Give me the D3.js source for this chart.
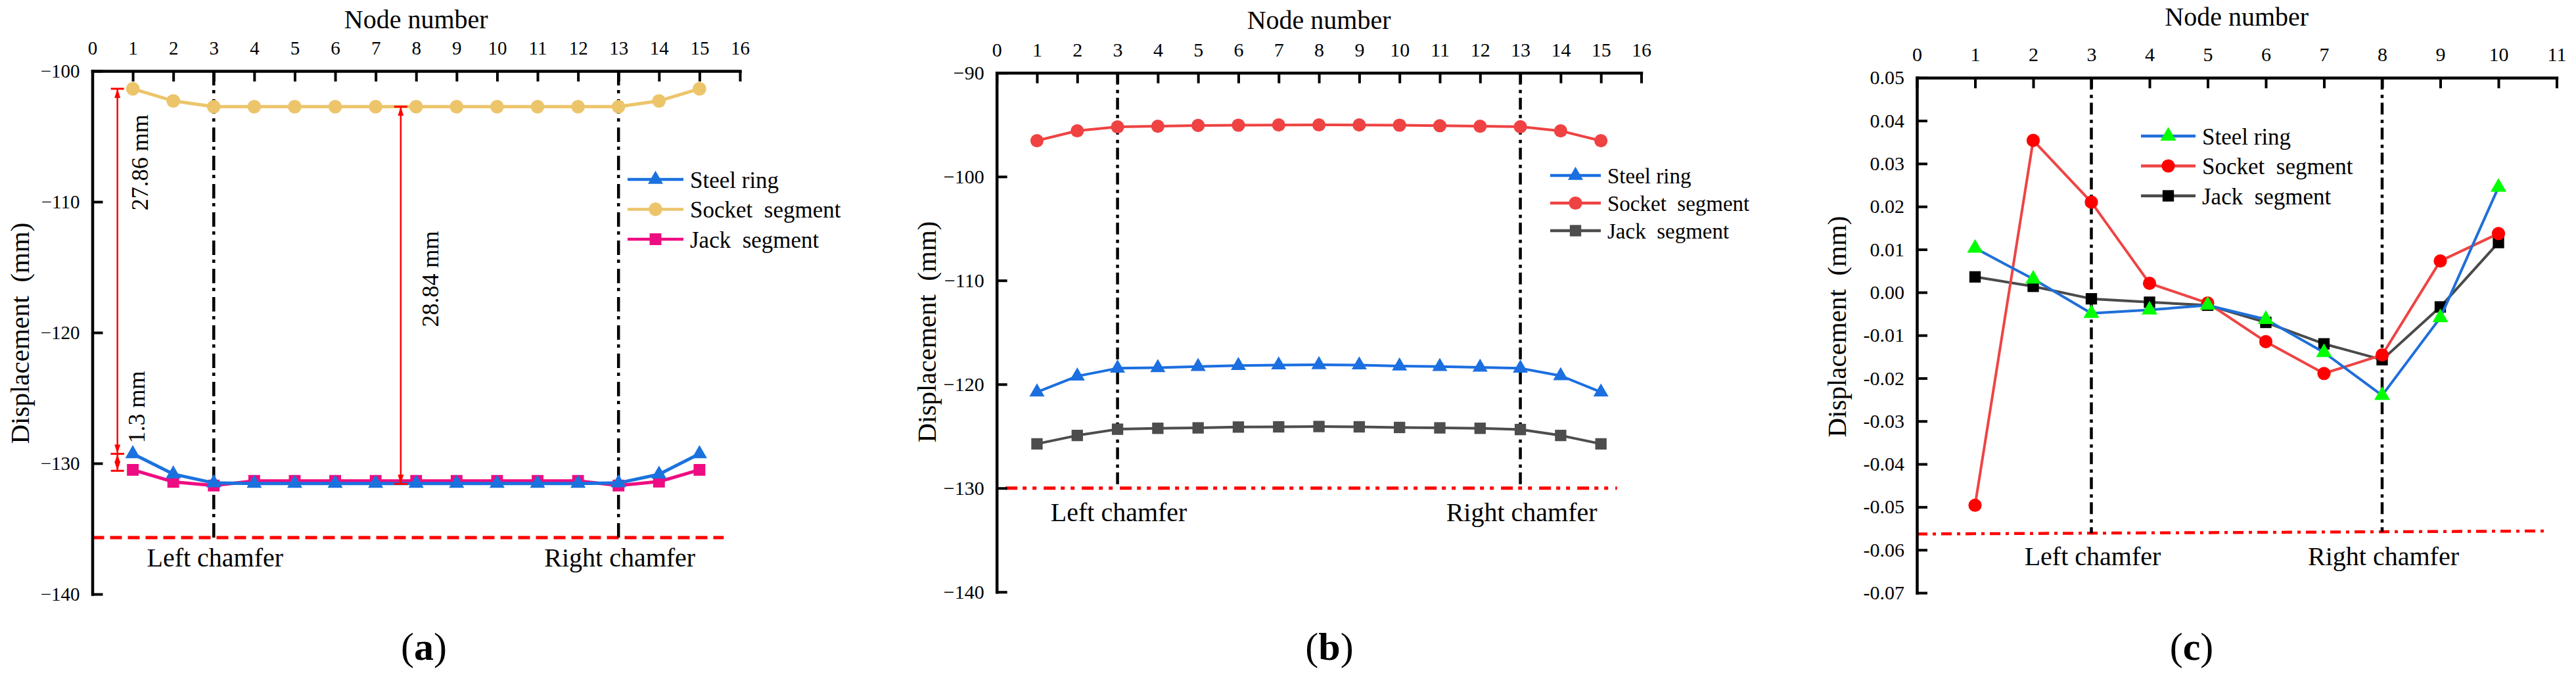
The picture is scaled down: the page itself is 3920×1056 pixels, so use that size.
<!DOCTYPE html>
<html>
<head>
<meta charset="utf-8">
<script src="https://cdn.jsdelivr.net/npm/d3@7"></script>
<style>
  body { margin: 0; background: #fff; }
  svg text { font-family: "Liberation Serif", "Times New Roman", Times, serif; fill: #000; white-space: pre; }
</style>
</head>
<body>
<svg id="chart" width="3920" height="1056"></svg>
<script>
// ---- data ----
const nodesAB = [1, 2, 3, 4, 5, 6, 7, 8, 9, 10, 11, 12, 13, 14, 15];
const nodesC = [1, 2, 3, 4, 5, 6, 7, 8, 9, 10];

const steelA  = [-129.27, -130.82, -131.50, -131.54, -131.54, -131.54, -131.54, -131.54, -131.54, -131.54, -131.54, -131.54, -131.50, -130.84, -129.27];
const socketA = [-101.36, -102.29, -102.73, -102.73, -102.73, -102.73, -102.73, -102.73, -102.73, -102.73, -102.73, -102.73, -102.73, -102.29, -101.36];
const jackA   = [-130.50, -131.42, -131.70, -131.34, -131.34, -131.34, -131.34, -131.34, -131.34, -131.34, -131.34, -131.34, -131.70, -131.40, -130.50];

const steelB  = [-120.75, -119.22, -118.46, -118.41, -118.30, -118.20, -118.15, -118.12, -118.15, -118.25, -118.30, -118.37, -118.46, -119.18, -120.76];
const socketB = [-96.54, -95.59, -95.21, -95.15, -95.08, -95.05, -95.03, -95.02, -95.03, -95.05, -95.10, -95.15, -95.20, -95.60, -96.55];
const jackB   = [-125.74, -124.93, -124.33, -124.24, -124.20, -124.12, -124.10, -124.07, -124.10, -124.16, -124.20, -124.24, -124.36, -124.93, -125.74];

const steelC  = [0.0103, 0.0031, -0.0049, -0.0041, -0.0030, -0.0063, -0.0140, -0.0240, -0.0059, 0.0245];
const socketC = [-0.0496, 0.0354, 0.0210, 0.0021, -0.0025, -0.0115, -0.0189, -0.0146, 0.0073, 0.0137];
const jackC   = [0.0036, 0.0014, -0.0015, -0.0023, -0.0030, -0.0070, -0.0120, -0.0157, -0.0034, 0.0116];

const xTicksAB = [0, 1, 2, 3, 4, 5, 6, 7, 8, 9, 10, 11, 12, 13, 14, 15, 16];
const xTicksC  = [0, 1, 2, 3, 4, 5, 6, 7, 8, 9, 10, 11];
const yTicksA  = [-100, -110, -120, -130, -140];
const yTicksB  = [-90, -100, -110, -120, -130, -140];
const yTicksC  = [0.05, 0.04, 0.03, 0.02, 0.01, 0, -0.01, -0.02, -0.03, -0.04, -0.05, -0.06, -0.07];

const seriesNames = ["Steel ring", "Socket  segment", "Jack  segment"];
const chamfersAB = [3, 13];
const chamfersC  = [3, 8];
const chamferLabels = ["Left chamfer", "Right chamfer"];

// red limit lines: [x, y] end points in data units
const limitA = [[0, -135.68], [15.6, -135.68]];
const limitB = [[0.22, -130], [15.4, -130]];
const limitC = [[0, -0.0563], [10.85, -0.0556]];

// dimension arrows of panel (a)
const dimsA = [
  { x: 0.62, from: socketA[0], to: steelA[0] },
  { x: 0.62, from: steelA[0], to: steelA[0] - 1.3 },
  { x: 7.62, from: socketA[7], to: socketA[7] - 28.84 }
];
const dimLabelsA = [
  { x: 1.17, y: -107.0, text: "27.86 mm" },
  { x: 1.10, y: -125.7, text: "1.3 mm" },
  { x: 8.35, y: -115.9, text: "28.84 mm" }
];

// ---- drawing ----
const svg = d3.select("#chart");
const FONT = '"Liberation Serif", "Times New Roman", Times, serif';

svg.append("defs").append("marker")
  .attr("id", "arrowRed")
  .attr("viewBox", "0 0 10 10")
  .attr("refX", 10).attr("refY", 5)
  .attr("markerUnits", "userSpaceOnUse")
  .attr("markerWidth", 14).attr("markerHeight", 9)
  .attr("preserveAspectRatio", "none")
  .attr("orient", "auto-start-reverse")
  .append("path").attr("d", "M0,0L10,5L0,10z").attr("fill", "#ff0000");

function drawPanel(p) {
  const g = svg.append("g");
  const x = d3.scaleLinear().domain(p.xDomain).range([p.left, p.right]);
  const y = d3.scaleLinear().domain(p.yDomain).range([p.top, p.bottom]);

  // red limit line
  g.append("line")
    .attr("x1", x(p.limit[0][0])).attr("y1", y(p.limit[0][1]))
    .attr("x2", x(p.limit[1][0])).attr("y2", y(p.limit[1][1]))
    .attr("stroke", "#ff0000").attr("stroke-width", p.limitWidth)
    .attr("stroke-dasharray", p.limitDash);

  // chamfer lines, down to the limit line
  const limitAt = d3.scaleLinear().domain([p.limit[0][0], p.limit[1][0]]).range([p.limit[0][1], p.limit[1][1]]);
  g.selectAll(".chamfer").data(p.chamfers).join("line")
    .attr("x1", d => x(d)).attr("x2", d => x(d))
    .attr("y1", p.top).attr("y2", d => y(limitAt(d)))
    .attr("stroke", "#000").attr("stroke-width", 4.5)
    .attr("stroke-dasharray", p.chamferDash);

  g.selectAll(".chamferLabel").data(p.chamfers).join("text")
    .attr("x", d => x(d) + 2).attr("y", p.chamferLabelY)
    .attr("text-anchor", "middle").attr("font-size", 40)
    .text((d, i) => chamferLabels[i]);

  // series
  const line = d3.line().x(d => x(d[0])).y(d => y(d[1]));
  p.drawOrder.forEach(i => {
    const s = p.series[i];
    const pts = p.nodes.map((n, k) => [n, s.values[k]]);
    g.append("path").datum(pts)
      .attr("d", line).attr("fill", "none")
      .attr("stroke", s.line).attr("stroke-width", p.lineWidth)
      .attr("stroke-linejoin", "round");
    g.selectAll(null).data(pts).join("path")
      .attr("transform", d => `translate(${x(d[0])},${y(d[1])})`)
      .attr("d", d3.symbol().type(s.symbol).size(s.size))
      .attr("fill", s.marker);
  });

  // axes
  const xAxis = g.append("g").attr("transform", `translate(0,${p.top})`)
    .call(d3.axisTop(x).tickValues(p.xTicks).tickSizeInner(-16).tickSizeOuter(0).tickPadding(25).tickFormat(d3.format("d")));
  const yAxis = g.append("g").attr("transform", `translate(${p.left},0)`)
    .call(d3.axisLeft(y).tickValues(p.yTicks).tickSizeInner(-16).tickSizeOuter(0).tickPadding(19).tickFormat(p.yFormat));
  [xAxis, yAxis].forEach(a => {
    a.attr("font-family", FONT).attr("font-size", p.tickFont);
    a.select(".domain").attr("stroke-width", 4.5).attr("stroke-linecap", "square");
    a.selectAll(".tick line").attr("stroke-width", 4);
    a.selectAll(".tick text").attr("fill", "#000");
  });

  // titles
  g.append("text")
    .attr("x", (p.left + p.right) / 2).attr("y", p.xTitleY)
    .attr("text-anchor", "middle").attr("font-size", 40)
    .text("Node number");
  g.append("text")
    .attr("transform", `translate(${p.yTitleX},${p.yTitleY}) rotate(-90)`)
    .attr("text-anchor", "middle").attr("font-size", 41)
    .text("Displacement  (mm)");

  // legend
  const lg = g.append("g");
  p.series.forEach((s, i) => {
    const ly = p.legend.y + i * p.legend.dy;
    lg.append("line")
      .attr("x1", p.legend.x0).attr("x2", p.legend.x1)
      .attr("y1", ly).attr("y2", ly)
      .attr("stroke", s.line).attr("stroke-width", 4.5);
    lg.append("path")
      .attr("transform", `translate(${(p.legend.x0 + p.legend.x1) / 2},${ly})`)
      .attr("d", d3.symbol().type(s.symbol).size(s.size))
      .attr("fill", s.marker);
    lg.append("text")
      .attr("x", p.legend.x1 + 10).attr("y", ly)
      .attr("dy", "0.36em").attr("font-size", p.legend.font)
      .text(seriesNames[i]);
  });

  // panel label
  const lab = g.append("text")
    .attr("x", p.labelX).attr("y", 1004)
    .attr("text-anchor", "middle").attr("font-size", 60);
  lab.append("tspan").text("(");
  lab.append("tspan").attr("font-weight", "bold").text(p.label);
  lab.append("tspan").text(")");

  return { g, x, y };
}

const panelA = drawPanel({
  left: 140.5, right: 1126, top: 108, bottom: 904,
  xDomain: [0, 16], yDomain: [-100, -140],
  xTicks: xTicksAB, yTicks: yTicksA, yFormat: d3.format("d"), tickFont: 29,
  nodes: nodesAB,
  series: [
    { values: steelA,  line: "#1b72de", marker: "#1b72de", symbol: d3.symbolTriangle, size: 230 },
    { values: socketA, line: "#ecc56b", marker: "#ecc56b", symbol: d3.symbolCircle,   size: 340 },
    { values: jackA,   line: "#ee0c82", marker: "#ee0c82", symbol: d3.symbolSquare,   size: 320 }
  ],
  drawOrder: [1, 2, 0], lineWidth: 5,
  limit: limitA, limitWidth: 5, limitDash: "18,9",
  chamfers: chamfersAB, chamferDash: "22,7,5,9", chamferLabelY: 862,
  xTitleY: 43, yTitleX: 44, yTitleY: 507,
  legend: { x0: 955, x1: 1040, y: 273, dy: 45.5, font: 35 },
  label: "a", labelX: 645
});

const panelB = drawPanel({
  left: 1516.7, right: 2497.5, top: 110.7, bottom: 900.7,
  xDomain: [0, 16], yDomain: [-90, -140],
  xTicks: xTicksAB, yTicks: yTicksB, yFormat: d3.format("d"), tickFont: 30,
  nodes: nodesAB,
  series: [
    { values: steelB,  line: "#1b6fe0", marker: "#1b6fe0", symbol: d3.symbolTriangle, size: 230 },
    { values: socketB, line: "#ef4242", marker: "#ef4242", symbol: d3.symbolCircle,   size: 320 },
    { values: jackB,   line: "#4d4d4d", marker: "#4d4d4d", symbol: d3.symbolSquare,   size: 300 }
  ],
  drawOrder: [2, 1, 0], lineWidth: 4,
  limit: limitB, limitWidth: 5, limitDash: "18,8,6,9,6,11",
  chamfers: chamfersAB, chamferDash: "18,8,5,7", chamferLabelY: 793,
  xTitleY: 44, yTitleX: 1424, yTitleY: 505,
  legend: { x0: 2359, x1: 2436, y: 267, dy: 42, font: 33 },
  label: "b", labelX: 2023
});

const panelC = drawPanel({
  left: 2917, right: 3890.5, top: 118.3, bottom: 902,
  xDomain: [0, 11], yDomain: [0.05, -0.07],
  xTicks: xTicksC, yTicks: yTicksC, yFormat: d => d.toFixed(2), tickFont: 30,
  nodes: nodesC,
  series: [
    { values: steelC,  line: "#1f6fd8", marker: "#00ff00", symbol: d3.symbolTriangle, size: 250 },
    { values: socketC, line: "#ee4444", marker: "#ff0000", symbol: d3.symbolCircle,   size: 320 },
    { values: jackC,   line: "#4a4a4a", marker: "#000000", symbol: d3.symbolSquare,   size: 300 }
  ],
  drawOrder: [2, 1, 0], lineWidth: 4,
  limit: limitC, limitWidth: 4.5, limitDash: "16,8,5,8",
  chamfers: chamfersC, chamferDash: "18,8,5,7", chamferLabelY: 860,
  xTitleY: 39, yTitleX: 2809, yTitleY: 497,
  legend: { x0: 3258, x1: 3341, y: 207, dy: 45.5, font: 35 },
  label: "c", labelX: 3335
});

// dimension arrows in panel (a)
const xa = panelA.x, ya = panelA.y;
panelA.g.selectAll(".dim").data(dimsA).join("line")
  .attr("x1", d => xa(d.x)).attr("x2", d => xa(d.x))
  .attr("y1", d => ya(d.from)).attr("y2", d => ya(d.to))
  .attr("stroke", "#ff0000").attr("stroke-width", 2.5)
  .attr("marker-start", "url(#arrowRed)").attr("marker-end", "url(#arrowRed)");
panelA.g.selectAll(".cap").data(dimsA.flatMap(d => [[d.x, d.from], [d.x, d.to]])).join("line")
  .attr("x1", d => xa(d[0]) - 10).attr("x2", d => xa(d[0]) + 10)
  .attr("y1", d => ya(d[1])).attr("y2", d => ya(d[1]))
  .attr("stroke", "#ff0000").attr("stroke-width", 3);
panelA.g.selectAll(".dimLabel").data(dimLabelsA).join("text")
  .attr("transform", d => `translate(${xa(d.x)},${ya(d.y)}) rotate(-90)`)
  .attr("text-anchor", "middle").attr("dominant-baseline", "central")
  .attr("font-size", 36)
  .text(d => d.text);
</script>
</body>
</html>
